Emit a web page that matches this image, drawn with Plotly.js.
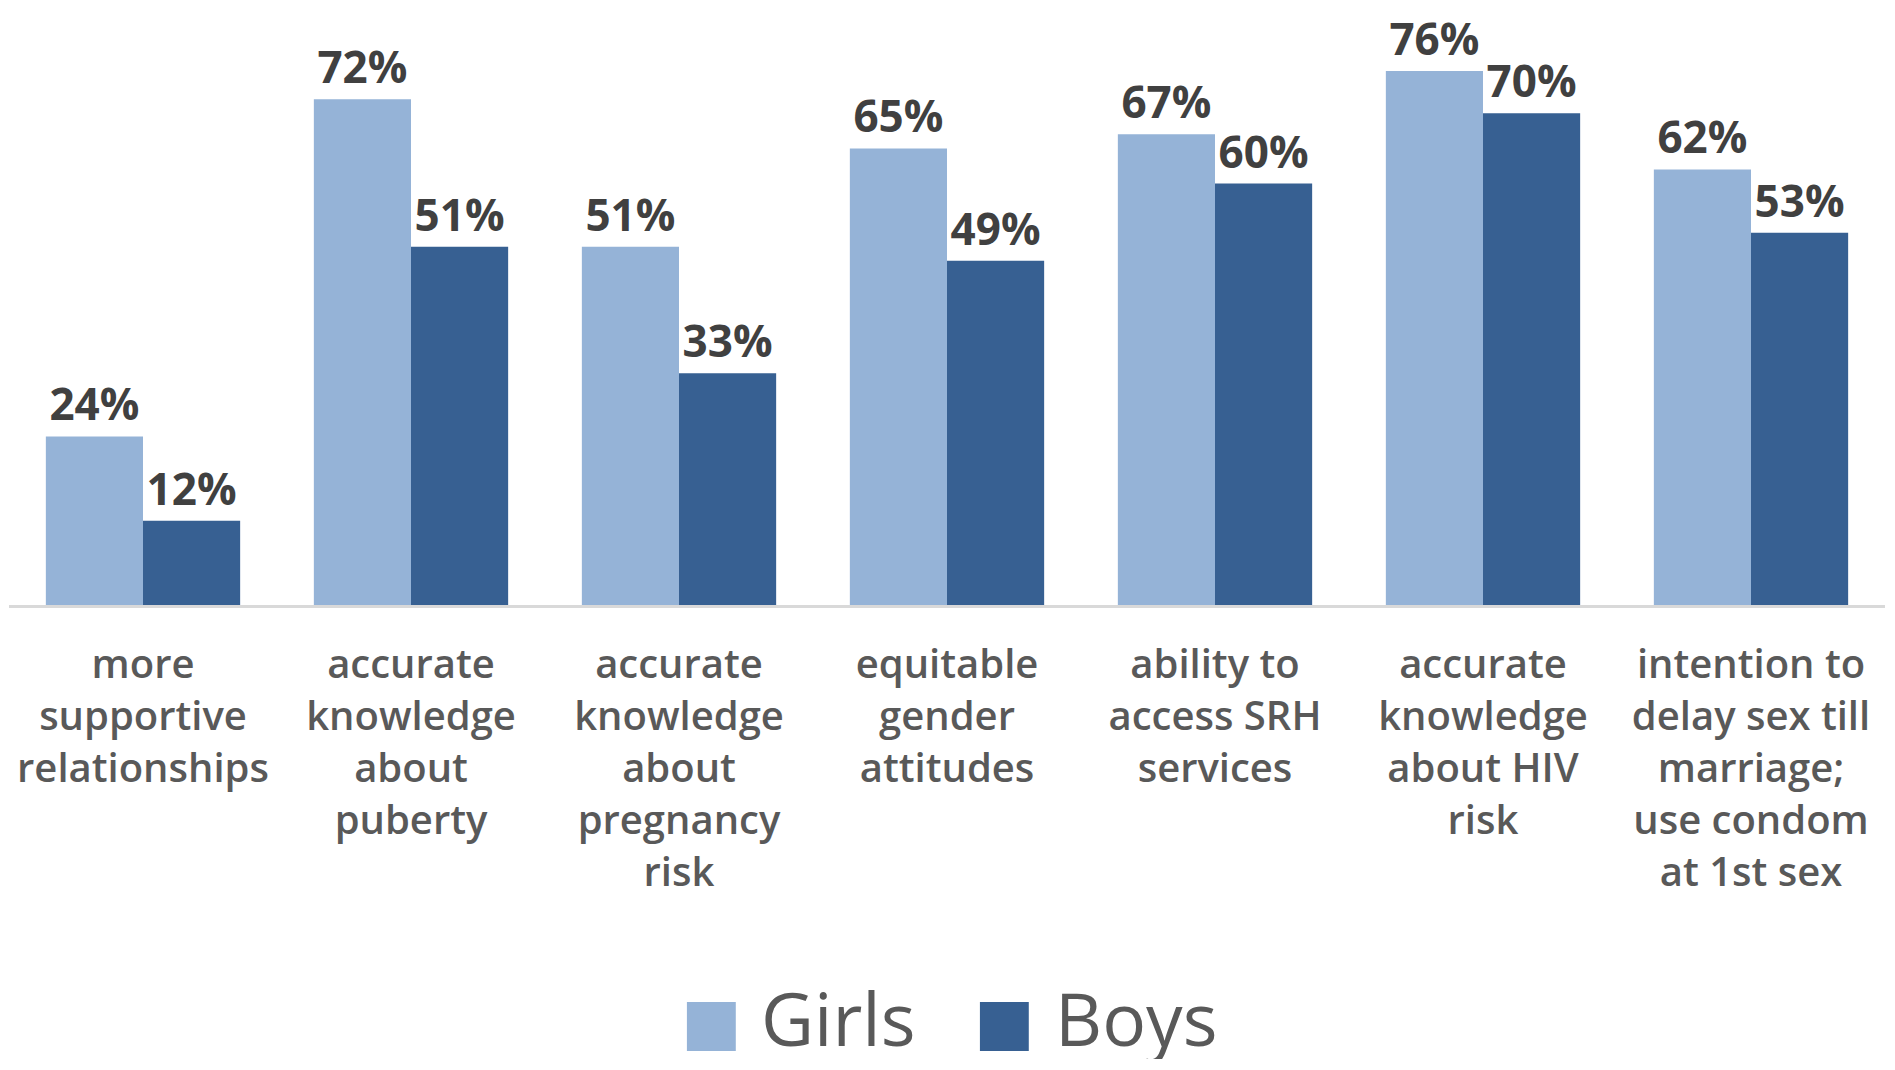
<!DOCTYPE html>
<html>
<head>
<meta charset="utf-8">
<script src="https://cdn.plot.ly/plotly-3.0.1.min.js"></script>
<style>html,body{margin:0;padding:0;background:#fff;}#chart{width:1895px;height:1070px;}</style>
</head>
<body>
<div id="chart"></div>
<script>
var categories = ["more supportive relationships", "accurate knowledge about puberty", "accurate knowledge about pregnancy risk", "equitable gender attitudes", "ability to access SRH services", "accurate knowledge about HIV risk", "intention to delay sex till marriage; use condom at 1st sex"];
var tickLabels = ["more<br>supportive<br>relationships", "accurate<br>knowledge<br>about<br>puberty", "accurate<br>knowledge<br>about<br>pregnancy<br>risk", "equitable<br>gender<br>attitudes", "ability to<br>access SRH<br>services", "accurate<br>knowledge<br>about HIV<br>risk", "intention to<br>delay sex till<br>marriage;<br>use condom<br>at 1st sex"];
var girls = [24, 72, 51, 65, 67, 76, 62];
var boys = [12, 51, 33, 49, 60, 70, 53];
var seriesNames = ["Girls", "Boys"];
var colors = ["#95B3D7", "#376092"];

var labelFont = {family: "Open Sans", size: 44, color: "#404040", weight: "bold"};
function barTrace(vals, i) {
  return {
    type: "bar", x: categories, y: vals, name: seriesNames[i],
    marker: {color: colors[i]},
    texttemplate: "%{y}%", textposition: "outside", textfont: labelFont,
    constraintext: "none", cliponaxis: false, showlegend: false, hoverinfo: "skip"
  };
}
var data = [barTrace(girls, 0), barTrace(boys, 1)];

// legend drawn as annotations (pixel -> paper helpers)
function px(x) { return (x - 9) / 1876; }
function py(y) { return (605.5 - y) / 562.5; }
var legendItems = [
  {sq: 711, txt: 759},
  {sq: 1004, txt: 1053}
];
var annotations = [];
legendItems.forEach(function (it, i) {
  annotations.push({xref: "paper", yref: "paper", x: px(it.sq), y: py(1022), text: "\u25A0",
    showarrow: false, xanchor: "center", yanchor: "middle", height: 70,
    font: {family: "DejaVu Sans", size: 64, color: colors[i]}});
  annotations.push({xref: "paper", yref: "paper", x: px(it.txt), y: py(1018), text: seriesNames[i],
    showarrow: false, xanchor: "left", yanchor: "middle", height: 84, valign: "middle",
    font: {family: "Open Sans", size: 73, color: "#595959"}});
});

var layout = {
  width: 1895, height: 1070,
  margin: {l: 9, r: 10, t: 43, b: 464.5},
  paper_bgcolor: "#ffffff", plot_bgcolor: "#ffffff",
  barmode: "group", bargap: 0.275, bargroupgap: 0,
  showlegend: false,
  xaxis: {
    type: "category", tickvals: categories, ticktext: tickLabels,
    showline: true, linecolor: "#D9D9D9", linewidth: 2.5,
    ticks: "", showgrid: false, zeroline: false,
    tickfont: {family: "Open Sans", size: 40, color: "#595959", weight: 600},
    ticklabelstandoff: 22, tickangle: 0
  },
  yaxis: {range: [0, 80], visible: false, showgrid: false, zeroline: false},
  annotations: annotations
};

Plotly.newPlot("chart", data, layout, {displayModeBar: false, staticPlot: true});
</script>
</body>
</html>
